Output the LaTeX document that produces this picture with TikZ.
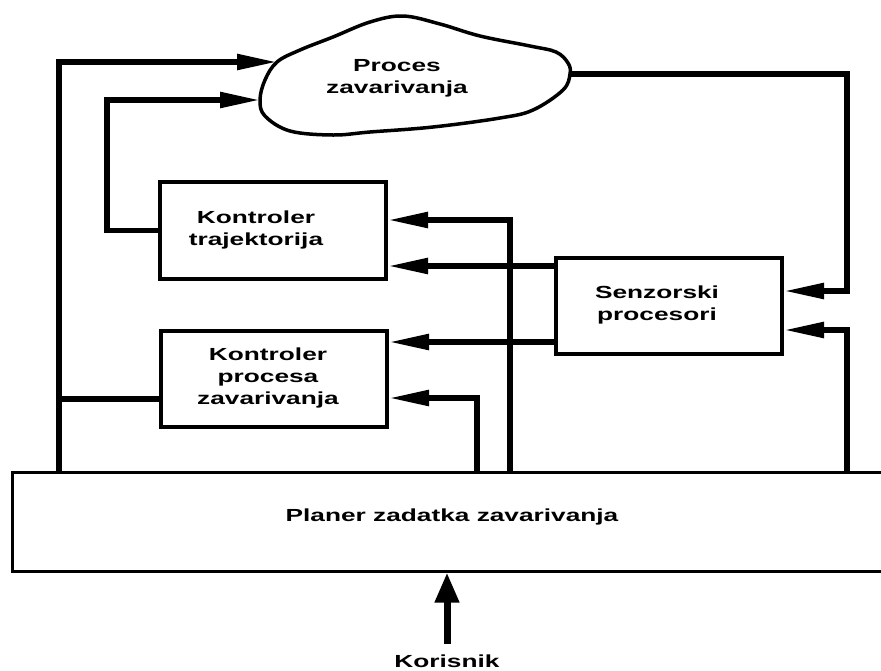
\documentclass[tikz,border=0pt]{standalone}
\usepackage{fontspec}
\newfontfamily\lab{Liberation Sans}[FakeStretch=1.5]
\usetikzlibrary{arrows.meta,calc}
\begin{document}
\begin{tikzpicture}[x=1pt,y=-1pt,
  box/.style={draw, line width=4pt, inner sep=0pt},
  ln/.style={line width=5.5pt},
  arr/.style={line width=5.5pt, -{Triangle[length=40pt,width=15pt]}},
  lbl/.style={font=\lab\bfseries\fontsize{17.5}{22}\selectfont, align=center, inner sep=0pt}]
\useasboundingbox (0,0) rectangle (881,670);
\clip (0,0) rectangle (881,670);
% cloud
\draw[line width=3.5pt] plot[smooth cycle, tension=0.6] coordinates {
 (260,100) (265,80) (277,62) (300,50) (333,37) (370,22) (403,16) (440,24)
 (480,36) (530,46) (556,52) (568,63) (570,74) (563,90) (533,110) (500,118)
 (433,127) (370,132) (333,135) (290,131) (265,116)};
\node[lbl] (proc) at (397,78.6) {Proces\\zavarivanja};
\coordinate (cA) at (277,62);
\coordinate (cB) at (260,100);
\coordinate (cC) at (569,74);
% boxes
\node[box, minimum width=226, minimum height=97] (kt) at (273,230.5) {};
\node[lbl] (ktt) at (256,229.6) {Kontroler\\trajektorija};
\node[box, minimum width=226, minimum height=96] (kpz) at (274,379) {};
\node[lbl] (kpzt) at (268,377.6) {Kontroler\\procesa\\zavarivanja};
\node[box, minimum width=226, minimum height=96] (sen) at (669,306) {};
\node[lbl] (sent) at (657,304.6) {Senzorski\\procesori};
\node[draw, line width=3pt, inner sep=0pt, minimum width=880, minimum height=99] (pl) at (452,521.5) {};
\node[lbl, anchor=base] (plt) at (452,521) {Planer zadatka zavarivanja};
\node[lbl, anchor=base] (kor) at (447,667) {Korisnik};
% levels
\coordinate (xL) at (59,0);
\coordinate (x2) at (107,0);
\coordinate (x3) at (477,0);
\coordinate (x4) at (510,0);
\coordinate (xR) at (847,0);
\coordinate (y220) at (0,220);
\coordinate (y266) at (0,266);
\coordinate (y342) at (0,342);
\coordinate (y398) at (0,398);
\coordinate (y399) at (0,399);
\coordinate (y291) at (0,291);
\coordinate (y330) at (0,330);
% connectors
\draw[arr] (pl.north -| xL) |- (cA);
\draw[ln] (kpz.west |- y399) -- (xL |- y399);
\draw[arr] (kt.west) -- (kt.west -| x2) |- (cB);
\draw[arr] (pl.north -| x4) |- (kt.east |- y220);
\draw[arr] (sen.west |- y266) -- (kt.east |- y266);
\draw[arr] (sen.west |- y342) -- (kpz.east |- y342);
\draw[arr] (pl.north -| x3) |- (kpz.east |- y398);
\draw[arr] (cC) -- (cC -| xR) |- (sen.east |- y291);
\draw[arr] (pl.north -| xR) |- (sen.east |- y330);
\draw[line width=7pt, -{Triangle[length=30pt,width=23pt]}, shorten <=10pt] (kor.north) -- (kor.north |- pl.south);
\end{tikzpicture}
\end{document}
